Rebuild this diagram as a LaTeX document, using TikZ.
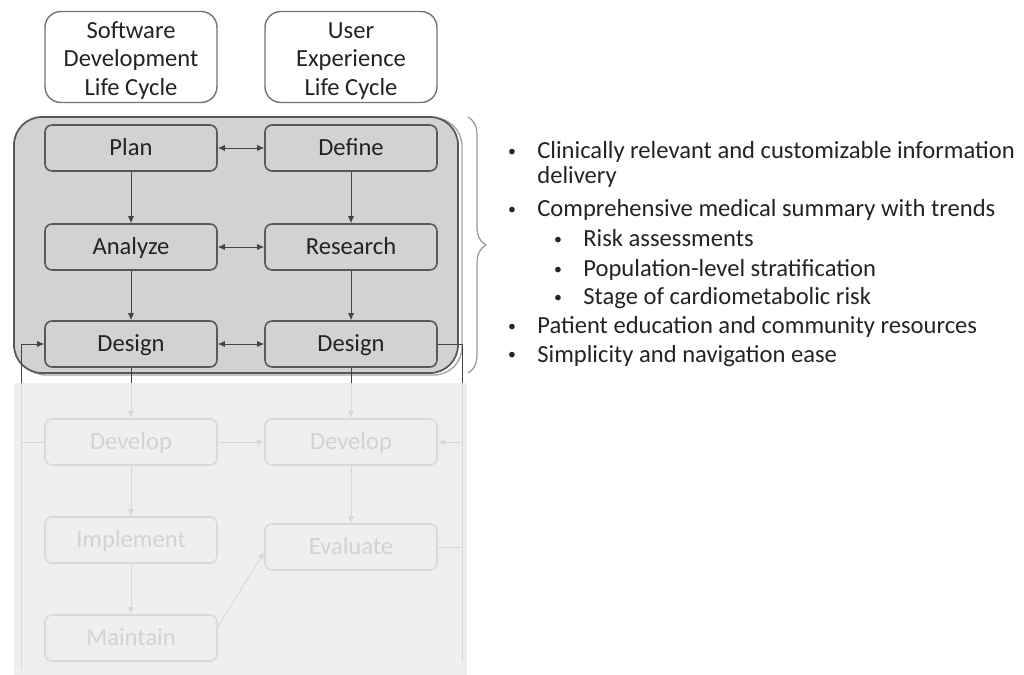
\documentclass[tikz,border=0pt]{standalone}
\usepackage{fontspec}
\setmainfont{Carlito}
\usetikzlibrary{arrows.meta, decorations.pathreplacing}
\definecolor{FrameGray}{RGB}{88,88,88}
\definecolor{PhaseFill}{RGB}{210,210,210}
\definecolor{LineGray}{RGB}{68,68,68}
\definecolor{TextGray}{RGB}{35,35,35}

\tikzset{
  cycle/.style={draw=black!55, fill=white, rounded corners=9pt, line width=0.8pt, minimum width=3.44cm, minimum height=1.82cm, inner ysep=1pt, align=center, text=TextGray, font=\fontsize{14}{16.2}\selectfont},
  phase/.style={draw=FrameGray, fill=PhaseFill, rounded corners=4pt, line width=0.9pt, minimum width=3.44cm, minimum height=0.92cm, text height=11pt, text depth=2pt, text=TextGray, font=\fontsize{14}{16}\selectfont},
  link/.style={draw=LineGray, line width=0.5pt, -{Latex[length=4pt,width=3.5pt]}},
  twoway/.style={link, {Latex[length=4pt,width=3.5pt]}-{Latex[length=4pt,width=3.5pt]}},
  need/.style={anchor=base west, inner sep=0pt, text=TextGray, font=\fontsize{14}{14.2}\selectfont},
}
\newcommand{\needbullet}{\makebox[0.62cm][l]{\hspace{1pt}\raisebox{1.6pt}{\fontsize{9}{9}\selectfont\textbullet}}}
\newcommand{\topstrut}{\rule{0pt}{13.5pt}}

\begin{document}
\begin{tikzpicture}[x=0.02cm, y=-0.02cm]
    \useasboundingbox (0,0) rectangle (1024,675);

    % Life cycle headings
    \node[cycle] (sdlc) at (131, 57) {\topstrut Software\\Development\\Life Cycle};
    \node[cycle] (uxlc) at (351, 57) {\topstrut User\\Experience\\Life Cycle};

    % Highlighted block: the phases up to design
    \draw[black!35, line width=0.8pt, rounded corners=0.56cm] (18,118) rectangle (462,375);
    \draw[FrameGray, fill=PhaseFill, line width=1pt, rounded corners=0.56cm] (14,117) rectangle (458,373);

    \node[phase] (plan) at (131, 148) {Plan};
    \node[phase] (define) at (351, 148) {Define};
    \node[phase] (analyze) at (131, 247) {Analyze};
    \node[phase] (research) at (351, 247) {Research};
    \node[phase] (designS) at (131, 344) {Design};
    \node[phase] (designU) at (351, 344) {Design};

    % Later phases
    \node[phase, fill=white] (developS) at (131, 442) {Develop};
    \node[phase, fill=white] (developU) at (351, 442) {Develop};
    \node[phase, fill=white] (implement) at (131, 540) {Implement};
    \node[phase, fill=white] (evaluate) at (351, 547) {Evaluate};
    \node[phase, fill=white] (maintain) at (131, 638) {Maintain};

    \coordinate (loopL) at (21, 670);
    \coordinate (loopR) at (462, 662);

    \draw[twoway] (plan) -- (define);
    \draw[twoway] (analyze) -- (research);
    \draw[twoway] (designS) -- (designU);
    \draw[link] (plan) -- (analyze);
    \draw[link] (analyze) -- (designS);
    \draw[link] (define) -- (research);
    \draw[link] (research) -- (designU);

    % feedback loops on both sides
    \draw[link] (loopL) |- (designS.west);
    \draw[LineGray, line width=0.5pt] (designU.east) -| (loopR);
    \draw[LineGray, line width=0.5pt] (developS.west) -- (loopL |- developS);
    \draw[link] (loopR |- developU) -- (developU.east);
    \draw[LineGray, line width=0.5pt] (evaluate.east) -- (loopR |- evaluate);

    \draw[link] (designS) -- (developS);
    \draw[link] (designU) -- (developU);
    \draw[link] (developS) -- (developU);
    \draw[link] (developS) -- (implement);
    \draw[link] (implement) -- (maintain);
    \draw[link] (developU) -- (evaluate);
    \draw[link] ([yshift=0.22cm]maintain.east) -- ([yshift=-0.1cm]evaluate.west);

    % wash over the later phases
    \fill[black!7, fill opacity=0.87] (14,383) rectangle (467,675);

    % brace and requirement list
    \draw[black!40, line width=0.7pt, decorate, decoration={brace, amplitude=0.36cm}] (468,117) -- (468,373);

    \node[need] (req1) at (506,159) {\needbullet Clinically relevant and customizable information};
    \node[need] (req1b) at (537,184) {delivery};
    \node[need] (req2) at (506,217) {\needbullet Comprehensive medical summary with trends};
    \node[need] (req2a) at (552,247) {\needbullet Risk assessments};
    \node[need] (req2b) at (552,277) {\needbullet Population-level stratification};
    \node[need] (req2c) at (552,305) {\needbullet Stage of cardiometabolic risk};
    \node[need] (req3) at (506,334) {\needbullet Patient education and community resources};
    \node[need] (req4) at (506,362) {\needbullet Simplicity and navigation ease};
\end{tikzpicture}
\end{document}
